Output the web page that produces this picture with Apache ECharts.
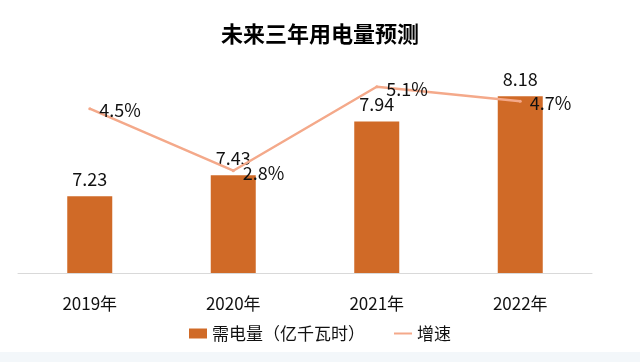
<!DOCTYPE html>
<html>
<head>
<meta charset="utf-8">
<script src="https://cdn.jsdelivr.net/npm/echarts@6/dist/echarts.min.js"></script>
<style>html,body{margin:0;padding:0;background:#fff;}#c{width:640px;height:362px;}</style>
</head>
<body>
<div id="c"></div>
<script>
const categories = ['2019年', '2020年', '2021年', '2022年'];
const demand = [7.23, 7.43, 7.94, 8.18];
const growth = [4.5, 2.8, 5.1, 4.7];
const demandName = '需电量（亿千瓦时）';
const growthName = '增速';

const FONT = '"Noto Sans CJK SC", "Noto Sans", sans-serif';
const chart = echarts.init(document.getElementById('c'), null, {renderer: 'canvas'});
chart.setOption({
  backgroundColor: '#ffffff',
  animation: false,
  title: {
    text: '未来三年用电量预测',
    left: 'center',
    top: 18,
    textStyle: {fontFamily: FONT, fontSize: 22, fontWeight: 'bold', color: '#000'}
  },
  legend: {
    top: 320,
    left: 'center',
    itemWidth: 18,
    itemHeight: 10,
    itemGap: 28,
    textStyle: {fontFamily: FONT, fontSize: 17, color: '#111'},
    data: [
      {name: demandName, icon: 'rect'},
      {name: growthName, itemStyle: {color: 'rgba(0,0,0,0)', borderWidth: 0}}
    ]
  },
  grid: {left: 18, right: 48, top: 10, bottom: 89},
  xAxis: {
    type: 'category',
    data: categories,
    axisLine: {lineStyle: {color: '#d9d9d9', width: 1}},
    axisTick: {show: false},
    axisLabel: {fontFamily: FONT, fontSize: 17, color: '#111', margin: 22}
  },
  yAxis: [
    {type: 'value', min: 6.5, max: 9, show: false, splitLine: {show: false}},
    {type: 'value', min: 0, max: 7.2, show: false, splitLine: {show: false}}
  ],
  series: [
    {
      name: demandName,
      type: 'bar',
      yAxisIndex: 0,
      data: demand,
      barWidth: 45,
      itemStyle: {color: '#D06A27'},
      label: {show: true, position: 'top', distance: 8, fontFamily: FONT, fontSize: 18, color: '#111'}
    },
    {
      name: growthName,
      type: 'line',
      yAxisIndex: 1,
      data: growth,
      symbol: 'circle',
      symbolSize: 3,
      showSymbol: true,
      lineStyle: {color: '#F4A98A', width: 2.5},
      itemStyle: {color: '#F4A98A'},
      z: 5,
      label: {
        show: true, position: 'right', distance: 8, offset: [0, 2],
        fontFamily: FONT, fontSize: 18, color: '#111',
        formatter: p => p.value.toFixed(1) + '%'
      }
    }
  ],
  graphic: [
    {type: 'rect', left: 0, top: 352, shape: {width: 640, height: 10}, style: {fill: '#f3f7fa'}, silent: true}
  ]
});
</script>
</body>
</html>
